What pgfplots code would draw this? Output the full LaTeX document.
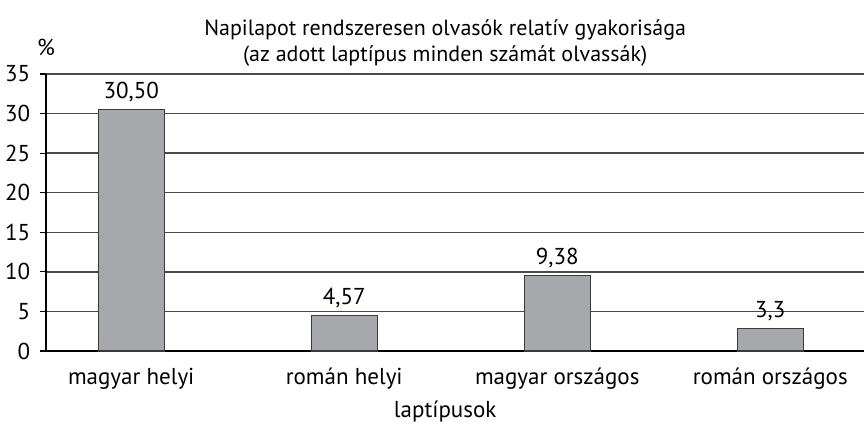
\documentclass[border=0pt]{standalone}
\usepackage{fontspec}
\setmainfont{PT Sans}
\usepackage{pgfplots}
\pgfplotsset{compat=1.18}
\definecolor{barfill}{HTML}{A7A8AB}
\definecolor{barline}{HTML}{3A3A3A}
\definecolor{gridc}{HTML}{4A4A4A}
\begin{document}
\fontsize{11}{13}\selectfont
\begin{tikzpicture}
\useasboundingbox (-23pt,-35.5pt) rectangle (409pt,175.5pt);
\begin{axis}[
    at={(0,0)}, anchor=south west,
    scale only axis,
    width=409pt, height=138.5pt,
    xmin=-0.4, xmax=3.44,
    ymin=0, ymax=35,
    ytick={0,5,...,35},
    xtick={0,1,2,3},
    xticklabels={magyar helyi, román helyi, magyar országos, román országos},
    axis x line*=bottom,
    axis y line*=left,
    axis line style={black, line width=0.8pt, -},
    ymajorgrids,
    grid style={gridc, line width=0.75pt},
    major tick length=3pt,
    y tick style={black, line width=0.6pt},
    tick align=outside,
    x tick style={draw=none},
    xtick pos=bottom, ytick pos=left,
    tick label style={font=\fontsize{11.5}{13}\selectfont},
    /pgf/number format/assume math mode=true,
    yticklabel style={xshift=-1pt},
    xticklabel style={yshift=-1.5pt},
    ybar, bar width=33pt,
    point meta=explicit symbolic,
    nodes near coords,
    every node near coord/.append style={font=\fontsize{11.5}{13}\selectfont, anchor=south, yshift=0pt},
    clip=false,
]
\addplot[fill=barfill, draw=barline, line width=0.6pt] coordinates {
    (0,30.5) [30,50]
    (1,4.45) [4,57]
    (2,9.5) [9,38]
    (3,2.8) [3,3]
};
\node[align=center, font=\fontsize{11}{13}\selectfont] at (rel axis cs:0.488,1.0) [yshift=15.5pt] {Napilapot rendszeresen olvasók relatív gyakorisága\\(az adott laptípus minden számát olvassák)};
\node[font=\fontsize{11.5}{13}\selectfont] at (rel axis cs:0,1) [yshift=13.5pt] {\%};
\node[font=\fontsize{11.5}{13}\selectfont] at (rel axis cs:0.488,0) [yshift=-30.5pt] {laptípusok};
\end{axis}
\end{tikzpicture}
\end{document}
